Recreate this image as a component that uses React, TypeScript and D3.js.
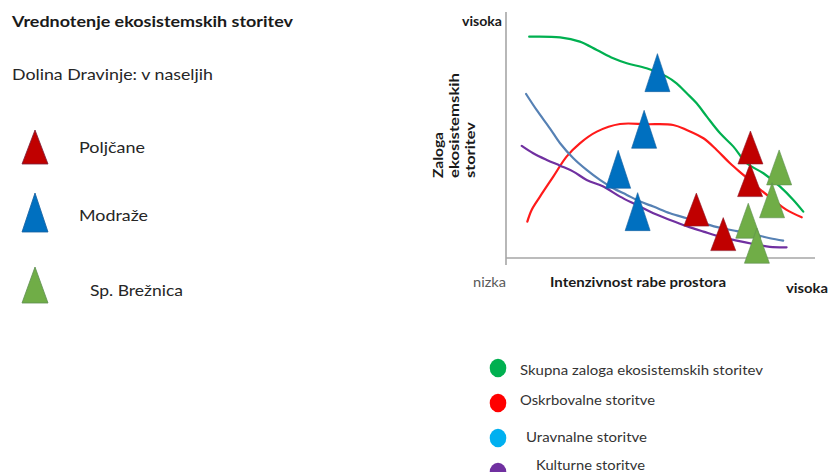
import React from "react";
import { scaleLinear, line, curveCatmullRom } from "d3";

// curves: [intenzivnost, zaloga] on a 0..100 scale
const skupnaZaloga: [number, number][] = [
  [7.5, 93.0], [17.5, 92.7], [23.9, 90.9], [29.4, 87.4], [34.7, 83.9], [39.1, 81.8],
  [45.5, 79.7], [52.0, 76.2], [55.2, 73.4], [58.5, 69.2], [61.7, 65.0], [65.0, 59.4],
  [69.3, 52.4], [73.6, 46.8], [77.9, 39.8], [83.3, 35.6], [88.7, 30.0], [93.0, 24.4],
  [96.2, 19.5],
];
const oskrbovalne: [number, number][] = [
  [6.9, 15.3], [8.3, 20.2], [11.0, 25.8], [15.3, 34.2], [19.6, 42.6], [23.9, 48.2],
  [29.4, 53.1], [36.9, 56.3], [45.5, 56.2], [54.1, 55.9], [58.5, 53.8], [63.9, 50.3],
  [68.2, 45.4], [72.5, 39.8], [76.8, 34.9], [81.1, 30.0], [86.5, 24.4], [90.8, 20.2],
  [95.7, 17.1],
];
const uravnalne: [number, number][] = [
  [6.5, 68.9], [9.9, 62.2], [14.2, 54.5], [17.5, 48.2], [21.8, 41.9], [26.1, 37.0],
  [30.4, 32.8], [34.7, 29.3], [39.1, 26.5], [43.4, 23.7], [47.7, 21.6], [53.1, 18.8],
  [58.5, 16.7], [63.9, 14.6], [69.3, 12.7], [74.7, 11.3], [80.0, 10.0], [85.4, 8.3],
  [89.7, 7.3],
];
const kulturne: [number, number][] = [
  [5.1, 47.1], [8.8, 44.0], [13.2, 41.2], [17.5, 38.8], [21.8, 36.3], [26.1, 32.8],
  [31.5, 30.0], [36.9, 25.8], [42.3, 22.3], [47.7, 18.8], [53.1, 16.0], [58.5, 13.4],
  [63.9, 11.1], [69.3, 8.9], [74.7, 7.3], [80.0, 5.9], [85.4, 4.7], [90.8, 4.5],
];

// settlements: base centre of each triangle
const poljcane = [
  { x: 79.1, y: 39.5 }, { x: 79.0, y: 25.8 }, { x: 61.6, y: 13.4 }, { x: 70.3, y: 3.1 },
];
const modraze = [
  { x: 49.0, y: 69.9 }, { x: 44.7, y: 46.1 }, { x: 36.3, y: 29.3 }, { x: 42.6, y: 11.5 },
];
const breznica = [
  { x: 88.4, y: 30.7 }, { x: 86.1, y: 16.9 }, { x: 78.4, y: 8.3 }, { x: 81.2, y: -2.2 },
];

const settlementNames = ["Poljčane", "Modraže", "Sp. Brežnica"];
const serviceNames = [
  "Skupna zaloga ekosistemskih storitev",
  "Oskrbovalne storitve",
  "Uravnalne storitve",
  "Kulturne storitve",
];
const yLabelLines = ["Zaloga", "ekosistemskih", "storitev"];

const FONT = "Lato, 'Open Sans', sans-serif";

function tri(cx: number, by: number, w: number, h: number) {
  return `M${cx},${by - h}L${cx + w / 2},${by}L${cx - w / 2},${by}Z`;
}

export default function App() {
  const width = 828;
  const height = 472;

  const x = scaleLinear().domain([0, 100]).range([506, 815]);
  const y = scaleLinear().domain([0, 100]).range([258, 20]);

  const path = line<[number, number]>()
    .x((d) => x(d[0]))
    .y((d) => y(d[1]))
    .curve(curveCatmullRom.alpha(0.5));

  const curves = [
    { data: skupnaZaloga, color: "#00B050" },
    { data: oskrbovalne, color: "#FF1A1A" },
    { data: uravnalne, color: "#5681B4" },
    { data: kulturne, color: "#7030A0" },
  ];

  const groups = [
    { pts: poljcane, fill: "#C00000", stroke: "#8E1A2A", h: 33 },
    { pts: modraze, fill: "#0070C0", stroke: "#1560A0", h: 38 },
    { pts: breznica, fill: "#70AD47", stroke: "#5E8E52", h: 35 },
  ];

  // left legend
  const legendTri = [
    { fill: "#C00000", stroke: "#7A1F3A", top: 130, base: 164, label: 153, lx: 79, tl: 66 },
    { fill: "#0070C0", stroke: "#1560A0", top: 193, base: 232, label: 221, lx: 79, tl: 69 },
    { fill: "#70AD47", stroke: "#5E8E52", top: 267, base: 303, label: 296, lx: 90, tl: 93 },
  ];

  const serviceLegend = [
    { color: "#00B050", cy: 368, tx: 520, ty: 375, tl: 243 },
    { color: "#FF0000", cy: 403, tx: 520, ty: 405, tl: 135 },
    { color: "#00B0F0", cy: 438, tx: 526, ty: 442, tl: 121 },
    { color: "#7030A0", cy: 472, tx: 536, ty: 470, tl: 109 },
  ];

  return (
    <svg
      width={width}
      height={height}
      viewBox={`0 0 ${width} ${height}`}
      style={{ position: "absolute", left: 0, top: 0, background: "#fff" }}
      fontFamily={FONT}
    >
      <rect width={width} height={height} fill="#fff" />

      {/* titles */}
      <text x={12} y={27} fontSize={16} fontWeight={700} fill="#1a1a1a" textLength={281} lengthAdjust="spacingAndGlyphs">
        Vrednotenje ekosistemskih storitev
      </text>
      <text x={12} y={80} fontSize={16} fill="#262626" textLength={201} lengthAdjust="spacingAndGlyphs">
        Dolina Dravinje: v naseljih
      </text>

      {legendTri.map((d, i) => (
        <g key={settlementNames[i]}>
          <path d={tri(35, d.base, 26, d.base - d.top)} fill={d.fill} stroke={d.stroke} strokeWidth={0.8} />
          <text x={d.lx} y={d.label} fontSize={16} fill="#262626" textLength={d.tl} lengthAdjust="spacingAndGlyphs">
            {settlementNames[i]}
          </text>
        </g>
      ))}

      {/* axes */}
      <line x1={x(0)} x2={x(0)} y1={12} y2={265} stroke="#A6A6A6" strokeWidth={1.6} />
      <line x1={x(0)} x2={x(100)} y1={y(0)} y2={y(0)} stroke="#A6A6A6" strokeWidth={1.6} />

      <text x={462} y={26} fontSize={13} fontWeight={700} fill="#1a1a1a" textLength={40} lengthAdjust="spacingAndGlyphs">
        visoka
      </text>
      <text x={473} y={287} fontSize={13} fill="#595959" textLength={33} lengthAdjust="spacingAndGlyphs">
        nizka
      </text>
      <text x={550} y={287} fontSize={13} fontWeight={700} fill="#1a1a1a" textLength={176} lengthAdjust="spacingAndGlyphs">
        Intenzivnost rabe prostora
      </text>
      <text x={786} y={293} fontSize={13} fontWeight={700} fill="#1a1a1a" textLength={42} lengthAdjust="spacingAndGlyphs">
        visoka
      </text>
      {yLabelLines.map((t, i) => (
        <text
          key={t}
          transform={`translate(${443 + i * 16},178) rotate(-90)`}
          fontSize={14}
          fontWeight={700}
          fill="#1a1a1a"
          textLength={[46, 105, 56][i]}
          lengthAdjust="spacingAndGlyphs"
        >
          {t}
        </text>
      ))}

      {/* curves */}
      {curves.map((c, i) => (
        <path key={i} d={path(c.data) || ""} fill="none" stroke={c.color} strokeWidth={2.2} strokeLinejoin="round" strokeLinecap="round" />
      ))}

      {/* settlements */}
      {groups.map((g, gi) =>
        g.pts.map((p, i) => (
          <path
            key={`${gi}-${i}`}
            d={tri(x(p.x), y(p.y), 25, g.h)}
            fill={g.fill}
            stroke={g.stroke}
            strokeWidth={0.6}
          />
        ))
      )}

      {/* service legend */}
      {serviceLegend.map((d, i) => (
        <g key={serviceNames[i]}>
          <ellipse cx={498} cy={d.cy} rx={8.3} ry={9.3} fill={d.color} />
          <text x={d.tx} y={d.ty} fontSize={13} fill="#333" textLength={d.tl} lengthAdjust="spacingAndGlyphs">
            {serviceNames[i]}
          </text>
        </g>
      ))}
    </svg>
  );
}
